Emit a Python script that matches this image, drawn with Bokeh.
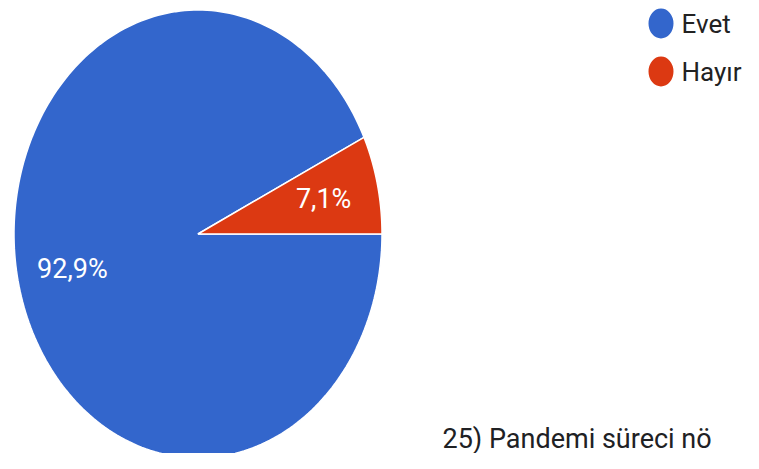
import numpy as np
from bokeh.plotting import figure
from bokeh.models import Range1d, ColumnDataSource
from bokeh.core.properties import value
from bokeh.embed import file_html
from bokeh.resources import INLINE

# Data
categories = ["Evet", "Hayır"]
shares = [92.9, 7.1]
labels = ["92,9%", "7,1%"]
colors = ["#3366cc", "#dc3912"]
question = "25) Pandemi süreci nö"

W, H = 743, 453
p = figure(width=W, height=H, output_backend="svg", toolbar_location=None,
           x_range=Range1d(0, W), y_range=Range1d(H, 0),
           min_border=0)
p.axis.visible = False
p.grid.visible = False
p.outline_line_color = None
p.background_fill_color = "white"

cx, cy, rx, ry = 197.5, 233.5, 184, 224
total = sum(shares)
start = 0.0
xs, ys, lx, ly = [], [], [], []
for s in shares:
    a0 = start / total * 2 * np.pi
    a1 = (start + s) / total * 2 * np.pi
    t = np.linspace(a0, a1, 240)
    xs.append(np.concatenate([[cx], cx + rx * np.cos(t)]).tolist())
    ys.append(np.concatenate([[cy], cy + ry * np.sin(t)]).tolist())
    m = (a0 + a1) / 2
    lx.append(cx + 0.7 * rx * np.cos(m))
    ly.append(cy + 0.7 * ry * np.sin(m))
    start += s

src = ColumnDataSource(dict(xs=xs, ys=ys, color=colors, lx=lx, ly=ly, lab=labels))
p.patches("xs", "ys", fill_color="color", line_color="white", line_width=1.5, source=src)
p.text("lx", "ly", text="lab", text_color="white", text_font=value("Roboto"),
       text_font_size="27px", text_align="center", text_baseline="middle", source=src)

# Legend (kept inside the canvas)
leg_y = [23 + 48 * i for i in range(len(categories))]
lsrc = ColumnDataSource(dict(x=[660.5] * len(categories), y=leg_y, c=colors, t=categories,
                             tx=[681] * len(categories)))
p.ellipse("x", "y", width=25, height=30, fill_color="c", line_color=None, source=lsrc)
p.text("tx", "y", text="t", text_color="#222222", text_font=value("Roboto"),
       text_font_size="26px", text_align="left", text_baseline="middle", source=lsrc)

# Question text at bottom (kept fully inside the canvas)
p.text([442], [438], text=[question], text_color="#202124", text_font=value("Roboto"),
       text_font_size="27px", text_align="left", text_baseline="alphabetic")

open("out.html", "w").write(file_html(p, INLINE))
